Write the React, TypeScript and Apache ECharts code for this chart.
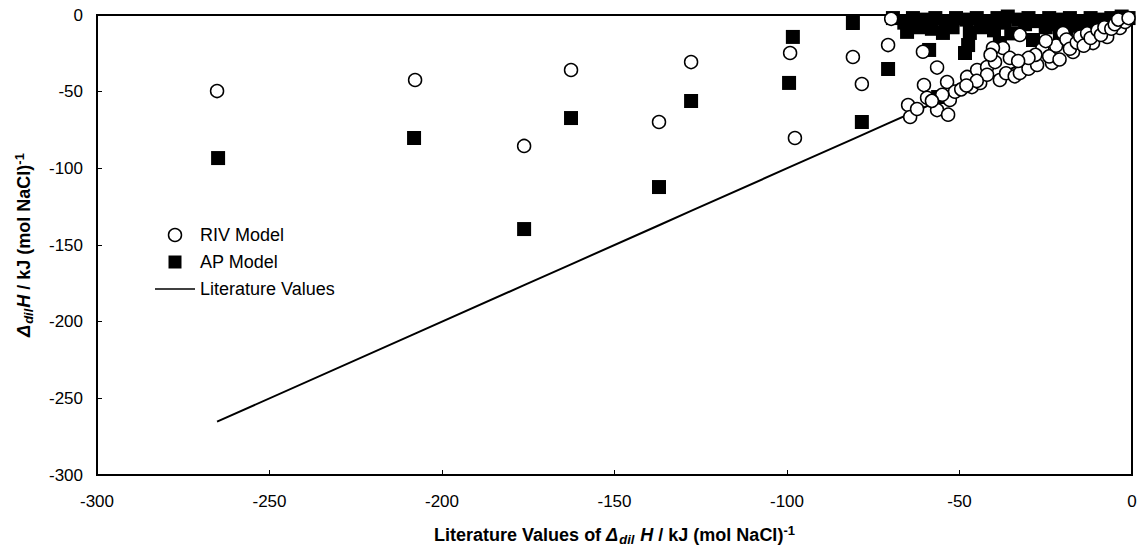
import React, { useEffect, useRef } from "react";
import * as echarts from "echarts";

// RIV Model points: x = literature value, y = model value
const rivX = [
  -265.2, -207.8, -176.2, -162.6, -137.1, -127.8, -99.1, -97.7, -80.9, -78.3,
  -70.7, -69.8, -64.9, -64.3, -62.3, -60.3, -59.4, -56.5, -56.5, -53.3,
  -53.6, -52.8, -51.3, -47.8, -46.4, -44.9, -44.0, -42.0, -39.7, -60.6,
  -49.5, -38.3, -36.5, -34.0, -32.5, -30.0, -27.5, -23.2, -32.5, -17.1,
  -11.3, -3.5, -20.0, -37.4, -35.4, -40.3, -7.2, -2.0, -26, -24,
  -22, -21, -19, -18, -16, -15, -14, -13, -12, -10,
  -9, -8, -6, -5, -4, -1, -28, -30, -25, -42,
  -45, -41, -33, -48, -55, -58,
];
const rivY = [
  -49.6, -42.4, -85.4, -35.9, -69.8, -30.7, -24.8, -80.2, -27.4, -45.0,
  -19.6, -2.5, -58.7, -66.5, -61.3, -45.7, -54.0, -34.3, -62.0, -65.0,
  -43.7, -55.4, -50.0, -40.4, -47.0, -35.9, -44.3, -33.9, -30.7, -24.0,
  -48.5, -42.4, -38.0, -40.0, -37.8, -35.0, -32.6, -31.3, -13.0, -24.1,
  -18.3, -8.5, -11.7, -21.5, -28.0, -21.5, -14.3, -4.6, -22, -27,
  -20, -29, -16, -22, -18, -14, -20, -12, -15, -10,
  -13, -8, -9, -6, -3, -2, -26, -28, -17, -39,
  -43, -26, -30, -46, -52, -56,
];

// AP Model points
const apX = [
  -264.9, -208.1, -176.2, -162.6, -137.1, -127.8, -99.4, -98.3, -80.9, -78.3,
  -70.7, -69.3, -63.5, -58.8, -48.4, -47.5, -56.2, -65.2, -54.8, -47.0,
  -38.3, -28.7, -20.9, -60, -57, -54, -51, -48, -45, -42,
  -39, -36, -33, -30, -27, -24, -21, -18, -15, -12,
  -9, -6, -3, -1, -62, -58, -52, -44, -40, -37,
  -35, -25, -22, -19, -16, -13, -10, -7, -66, -43,
  -31, -14,
];
const apY = [
  -93.3, -80.2, -139.6, -67.2, -112.2, -56.1, -44.3, -14.3, -5.2, -69.8,
  -35.2, -2.0, -2.0, -22.8, -24.8, -19.6, -53.5, -11.0, -11.7, -11.7,
  -18.3, -16.3, -11.7, -3, -2, -4, -2, -3, -2, -4,
  -2, -1, -3, -2, -4, -2, -3, -2, -4, -2,
  -3, -2, -1, -2, -8, -9, -8, -8, -10, -5,
  -12, -8, -6, -9, -7, -5, -6, -4, -5, -7,
  -6, -8,
];

// Literature values (line y = x)
const litX = [-265.2, -207.8, -176.2, -162.6, -137.1, -127.8, -99.1, -80.9, -70.7, -60, -50, -40, -30, -20, -10, 0];

const xTicks = { min: -300, max: 0, interval: 50 };
const yTicks = { min: -300, max: 0, interval: 50 };

const FONT = "'Liberation Sans', Arial, sans-serif";

function titleRich(size: number) {
  const base = { fontWeight: "bold", fontFamily: FONT, color: "#000" };
  return {
    d: { ...base, fontSize: size, fontStyle: "italic" },
    sub: { ...base, fontSize: Math.round(size * 0.72), fontStyle: "italic", verticalAlign: "bottom", padding: [9, 1, 0, 1] },
    h: { ...base, fontSize: size, fontStyle: "italic" },
    sup: { ...base, fontSize: Math.round(size * 0.72), verticalAlign: "top", padding: [0, 0, 9, 0] },
  };
}

export default function App() {
  const ref = useRef<HTMLDivElement>(null);
  useEffect(() => {
    document.body.style.margin = "0";
    const chart = echarts.init(ref.current!, null, { renderer: "svg" });
    const riv = rivX.map((x, i) => [x, rivY[i]]);
    const ap = apX.map((x, i) => [x, apY[i]]);
    const lit = litX.map((x) => [x, x]);
    const axisCommon = {
      axisLine: { onZero: false, lineStyle: { color: "#000", width: 2 } },
      axisTick: { inside: true, length: 5, lineStyle: { color: "#000", width: 1 } },
      axisLabel: { color: "#000", fontSize: 17, fontFamily: FONT },
      splitLine: { show: false },
    };
    chart.setOption({
      animation: false,
      backgroundColor: "#fff",
      grid: {
        left: 97,
        right: 6,
        top: 15,
        bottom: 77,
        show: true,
        borderColor: "#000",
        borderWidth: 2,
        backgroundColor: "transparent",
        containLabel: false,
        outerBoundsMode: "none",
      },
      xAxis: {
        type: "value",
        ...xTicks,
        ...axisCommon,
        axisLabel: { ...axisCommon.axisLabel, margin: 18 },
        name: "Literature Values of {d|Δ}{sub|dil}{h| H} / kJ (mol NaCl){sup|-1}",
        nameLocation: "middle",
        nameGap: 49,
        nameTextStyle: {
          fontSize: 18,
          fontWeight: "bold",
          fontFamily: FONT,
          color: "#000",
          rich: titleRich(18),
        },
      },
      yAxis: {
        type: "value",
        ...yTicks,
        ...axisCommon,
        axisLabel: { ...axisCommon.axisLabel, margin: 14 },
        name: "{d|Δ}{sub|dil}{h|H} / kJ (mol NaCl){sup|-1}",
        nameLocation: "middle",
        nameGap: 62,
        nameRotate: 90,
        nameTextStyle: {
          fontSize: 18,
          fontWeight: "bold",
          fontFamily: FONT,
          color: "#000",
          rich: titleRich(18),
        },
      },
      legend: {
        orient: "vertical",
        left: 150,
        top: 221,
        itemWidth: 40,
        itemHeight: 13,
        itemGap: 9,
        textStyle: { fontSize: 18, fontFamily: FONT, color: "#000" },
        data: [
          { name: "RIV Model", icon: "circle", itemStyle: { color: "#fff", borderColor: "#000", borderWidth: 1.5 } },
          { name: "AP Model", icon: "path://M0,0L10,0L10,10L0,10Z" },
          { name: "Literature Values", icon: "path://M0,0L40,0L40,1.5L0,1.5Z", itemStyle: { color: "#000" } },
        ],
      },
      series: [
        {
          name: "Literature Values",
          type: "line",
          data: lit,
          symbol: "none",
          lineStyle: { color: "#000", width: 2 },
          itemStyle: { color: "#000" },
          z: 1,
        },
        {
          name: "AP Model",
          type: "scatter",
          data: ap,
          symbol: "rect",
          symbolSize: 14,
          itemStyle: { color: "#000", opacity: 1 },
          z: 2,
        },
        {
          name: "RIV Model",
          type: "scatter",
          data: riv,
          symbol: "circle",
          symbolSize: 13,
          itemStyle: { color: "#fff", borderColor: "#000", borderWidth: 1.5, opacity: 1 },
          z: 3,
        },
      ],
    });
    return () => chart.dispose();
  }, []);
  return (
    <div
      ref={ref}
      style={{ position: "absolute", left: 0, top: 0, width: 1138, height: 552 }}
    />
  );
}
